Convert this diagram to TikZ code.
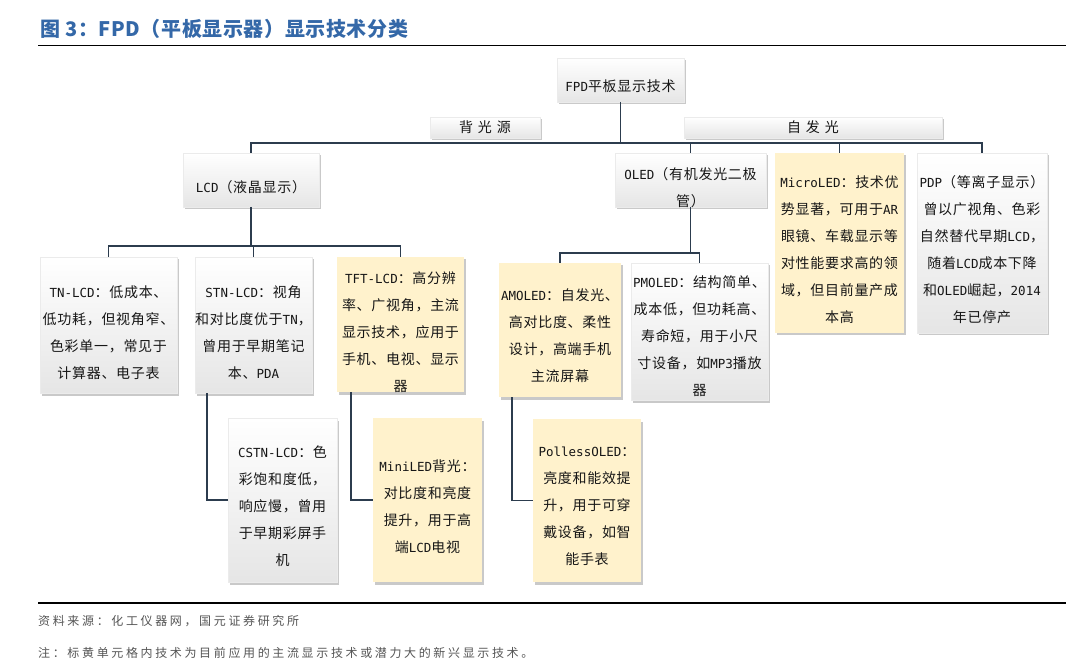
\documentclass[tikz,border=0pt]{standalone}
\usepackage{fontspec}
\setmainfont{Noto Sans CJK SC}[LetterSpace=5]
\newfontfamily\titlefont{Noto Sans CJK SC}[LetterSpace=3]
\newfontfamily\footfont{Noto Sans CJK SC}[LetterSpace=22]
\newfontfamily\lblfont{Noto Sans CJK SC}[LetterSpace=35]
\newfontfamily\latmono{DejaVu Sans Mono}
\newcommand\mylat[1]{{\latmono\fontsize{12.5}{27}\selectfont #1}}
\usetikzlibrary{shadows}
\definecolor{ylw}{RGB}{255,242,204}
\definecolor{conncol}{RGB}{44,60,78}
\definecolor{titleblue}{RGB}{52,104,168}
\definecolor{txtcol}{RGB}{22,22,22}
\definecolor{footcol}{RGB}{85,85,85}
\tikzset{
  box/.style={rectangle, inner sep=0pt, outer sep=0pt,
    drop shadow={shadow xshift=1.5pt, shadow yshift=-2.5pt, opacity=0.35, fill=black!60}},
  wbox/.style={box, top color=white, bottom color=black!10, draw=black!8, line width=0.4pt},
  ybox/.style={box, fill=ylw},
  txt/.style={align=center, inner sep=0pt, text=txtcol, font=\fontsize{14}{27}\selectfont},
  lbl/.style={inner sep=0pt, text=txtcol, font=\lblfont\fontsize{14}{16}\selectfont},
  conn/.style={draw=conncol, line width=1.8pt},
  rulel/.style={draw=black, line width=1.6pt}
}
\begin{document}
\begin{tikzpicture}[x=1pt,y=-1pt]
\useasboundingbox (0,0) rectangle (1080,663);
\fill[white] (0,0) rectangle (1080,663);

% title
\node[anchor=west, inner sep=0pt, text=titleblue, font=\titlefont\bfseries\fontsize{20}{22}\selectfont] (title) at (40,29) {图 3：FPD（平板显示器）显示技术分类};
\draw[rulel] (38,45.5) -- (1066,45.5);

% level 0
\node[wbox, minimum width=127pt, minimum height=44pt] (fpd) at (620.5,80) {};
\node[txt] (fpd-t) at ([yshift=-6pt]fpd.center) {\mylat{FPD}平板显示技术};

% category labels
\node[wbox, minimum width=110pt, minimum height=21pt] (bgl) at (485,127.5) {};
\node[lbl] (bgl-t) at (bgl.center) {背光源};
\node[wbox, minimum width=258pt, minimum height=21pt] (zfg) at (813,127.5) {};
\node[lbl] (zfg-t) at (zfg.center) {自发光};

% level 1
\node[wbox, minimum width=136pt, minimum height=54pt] (lcd) at (251,180) {};
\node[txt] (lcd-t) at ([yshift=-7pt]lcd.center) {\mylat{LCD}（液晶显示）};
\node[wbox, minimum width=151pt, minimum height=54pt] (oled) at (690.5,180) {};
\node[txt] (oled-t) at ([yshift=-8pt]oled.center) {\mylat{OLED}（有机发光二极\\管）};
\node[ybox, minimum width=129pt, minimum height=180pt] (micro) at (839.5,243) {};
\node[txt] (micro-t) at ([yshift=-7pt]micro.center) {\mylat{MicroLED}：技术优\\势显著，可用于\mylat{AR}\\眼镜、车载显示等\\对性能要求高的领\\域，但目前量产成\\本高};
\node[wbox, minimum width=130pt, minimum height=180pt] (pdp) at (982,243) {};
\node[txt] (pdp-t) at ([yshift=-7pt]pdp.center) {\mylat{PDP}（等离子显示）\\曾以广视角、色彩\\自然替代早期\mylat{LCD}，\\随着\mylat{LCD}成本下降\\和\mylat{OLED}崛起，\mylat{2014}\\年已停产};

% level 2 (LCD)
\node[wbox, minimum width=137pt, minimum height=136pt] (tn) at (108.5,325) {};
\node[txt] (tn-t) at ([yshift=-7.5pt]tn.center) {\mylat{TN-LCD}：低成本、\\低功耗，但视角窄、\\色彩单一，常见于\\计算器、电子表};
\node[wbox, minimum width=117pt, minimum height=136pt] (stn) at (253.5,325) {};
\node[txt] (stn-t) at ([yshift=-7.5pt]stn.center) {\mylat{STN-LCD}：视角\\和对比度优于\mylat{TN}，\\曾用于早期笔记\\本、\mylat{PDA}};
\node[ybox, minimum width=127pt, minimum height=135pt] (tft) at (400.5,324.5) {};
\node[txt] (tft-t) at ([yshift=-7.5pt]tft.center) {\mylat{TFT-LCD}：高分辨\\率、广视角，主流\\显示技术，应用于\\手机、电视、显示\\器};

% level 2 (OLED)
\node[ybox, minimum width=122pt, minimum height=134pt] (amoled) at (560,330) {};
\node[txt] (amoled-t) at ([yshift=-6pt]amoled.center) {\mylat{AMOLED}：自发光、\\高对比度、柔性\\设计，高端手机\\主流屏幕};
\node[wbox, minimum width=137pt, minimum height=137pt] (pmoled) at (699.5,331.5) {};
\node[txt] (pmoled-t) at ([yshift=-5pt]pmoled.center) {\mylat{PMOLED}：结构简单、\\成本低，但功耗高、\\寿命短，用于小尺\\寸设备，如\mylat{MP3}播放\\器};

% level 3
\node[wbox, minimum width=109pt, minimum height=164pt] (cstn) at (282.5,500) {};
\node[txt] (cstn-t) at ([yshift=-6.5pt]cstn.center) {\mylat{CSTN-LCD}：色\\彩饱和度低，\\响应慢，曾用\\于早期彩屏手\\机};
\node[ybox, minimum width=109pt, minimum height=164pt] (mini) at (427.5,500) {};
\node[txt] (mini-t) at ([yshift=-6.5pt]mini.center) {\mylat{MiniLED}背光：\\对比度和亮度\\提升，用于高\\端\mylat{LCD}电视};
\node[ybox, minimum width=108pt, minimum height=163pt] (poll) at (587,500.5) {};
\node[txt] (poll-t) at ([yshift=-6pt]poll.center) {\mylat{PollessOLED}：\\亮度和能效提\\升，用于可穿\\戴设备，如智\\能手表};

% connectors
\coordinate (bus1) at (0,143);
\coordinate (bus2) at (0,246);
\coordinate (bus3) at (0,253);
\draw[conn] (fpd.south) -- (fpd.south |- bus1);
\draw[conn] (lcd.north) -- (lcd.north |- bus1) -- (pdp.north |- bus1) -- (pdp.north);
\draw[conn] (oled.north) -- (oled.north |- bus1);
\draw[conn] (micro.north) -- (micro.north |- bus1);
\draw[conn] (lcd.south) -- (lcd.south |- bus2);
\draw[conn] (tn.north) -- (tn.north |- bus2) -- (tft.north |- bus2) -- (tft.north);
\draw[conn] (stn.north) -- (stn.north |- bus2);
\draw[conn] (oled.south) -- (oled.south |- bus3);
\draw[conn] (amoled.north) -- (amoled.north |- bus3) -- (pmoled.north |- bus3) -- (pmoled.north);
\draw[conn] ([xshift=12pt]stn.south west) |- (cstn.west);
\draw[conn] ([xshift=14pt]tft.south west) |- (mini.west);
\draw[conn] ([xshift=13pt]amoled.south west) |- (poll.west);

% footer
\draw[rulel] (38,603) -- (1066,603);
\node[anchor=west, inner sep=0pt, text=footcol, font=\footfont\fontsize{12}{14}\selectfont] (src) at (38,621) {资料来源：化工仪器网，国元证券研究所};
\node[anchor=west, inner sep=0pt, text=footcol, font=\footfont\fontsize{12}{14}\selectfont] (note) at (38,653) {注：标黄单元格内技术为目前应用的主流显示技术或潜力大的新兴显示技术。};
\end{tikzpicture}
\end{document}
